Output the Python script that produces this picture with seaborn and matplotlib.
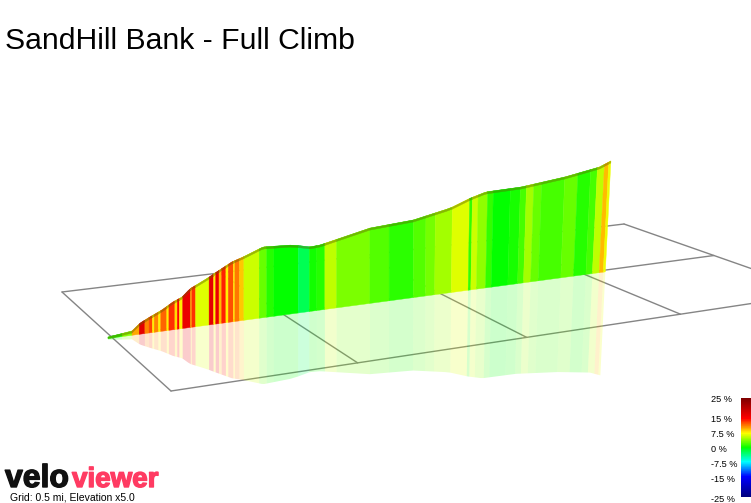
import numpy as np
import matplotlib
matplotlib.use("Agg")
import matplotlib.pyplot as plt
import matplotlib.patheffects as pe
from matplotlib.colors import LinearSegmentedColormap, Normalize
import seaborn as sns

# values
title = "SandHill Bank - Full Climb"
footer = "Grid: 0.5 mi, Elevation x5.0"

# elevation profile: distance (mi), gain (ft)
profile_mi = [0.0, 0.08, 0.107, 0.14, 0.18, 0.217, 0.247, 0.273, 0.333, 0.357, 0.413, 0.45,
              0.517, 0.617, 0.673, 0.707, 0.873, 1.017, 1.14, 1.207, 1.257, 1.373, 1.517,
              1.607, 1.63, 1.667]
profile_ft = [5, 15, 39, 56, 75, 98, 111, 136, 166, 180, 211, 223,
              249, 242, 227, 229, 265, 273, 298, 324, 338, 339, 354,
              369, 373, 389]

# coloured segments: end distance (mi), gradient (%)
seg_end_mi = [.047, .08, .104, .123, .137, .148, .154, .168, .176, .196, .203, .223, .231, .238,
              .249, .276, .279, .292, .337, .352, .359, .37, .379, .393, .401, .418, .423, .438,
              .453, .504, .529, .553, .634, .671, .696, .723, .762, .873, .937, 1.018, 1.059,
              1.09, 1.146, 1.203, 1.212, 1.231, 1.262, 1.281, 1.337, 1.37, 1.39, 1.414, 1.44,
              1.516, 1.559, 1.601, 1.623, 1.646, 1.66, 1.667]
seg_grad = [1, 4, 10, 17, 11, 13, 8, 11, 8, 12, 8, 13.5, 8.5, 15,
            8, 16.5, 8, 13.5, 6.5, 17, 8, 16.5, 9.5, 14, 8, 12.5, 8, 11.5,
            9, 6, 3, 1, 0, -2.5, 0.5, 1, 5.5, 3.7, 2.5, 1.2, 2.5,
            3.5, 4.7, 6.5, 1.5, 6, 4.2, 1.5, 0.1, 0.7, 2, 4.7, 3,
            2, 3, 1, 2, 5.5, 9.5, 7]

legend_values = [25, 15, 7.5, 0, -7.5, -15, -25]
legend_labels = ["25 %", "15 %", "7.5 %", "0 %", "-7.5 %", "-15 %", "-25 %"]
grid_u = [0, 0.5, 1, 1.5, 2]

# colour scale
norm = Normalize(-25, 25)
stops = [(-25, "#000080"), (-15, "#0000ff"), (-7.5, "#00ffff"), (0, "#00ff00"),
         (7.5, "#ffff00"), (15, "#ff0000"), (25, "#800000")]
cmap = LinearSegmentedColormap.from_list("gradient", [(norm(v), c) for v, c in stops])

sns.set_theme(style="white")
plt.rcParams["font.family"] = ["Liberation Sans", "DejaVu Sans"]

fig = plt.figure(figsize=(7.51, 5.03), dpi=100)
ax = fig.add_axes([0, 0, 1, 1])
ax.set_xlim(0, 751)
ax.set_ylim(503, 0)
ax.axis("off")

# ground plane projection (u along the course in mi, v across)
src = [(0, 1), (2, 1), (0, -1), (2, -1)]
dst = [(171, 391), (821, 293), (62, 292), (624, 224)]
A, b = [], []
for (u, v), (x, y) in zip(src, dst):
    A.append([u, v, 1, 0, 0, 0, -u * x, -v * x])
    A.append([0, 0, 0, u, v, 1, -u * y, -v * y])
    b += [x, y]
H = np.append(np.linalg.solve(np.array(A, float), np.array(b, float)), 1).reshape(3, 3)


def ground(u, v):
    p = H @ np.array([u, v, 1.0])
    return p[0] / p[2], p[1] / p[2]


def grid_line(u0, v0, u1, v1):
    xa, ya = ground(u0, v0)
    xb, yb = ground(u1, v1)
    sns.lineplot(x=[xa, xb], y=[ya, yb], sort=False, estimator=None, color="#858585",
                 linewidth=1.0, ax=ax, zorder=1)


for u in grid_u:
    grid_line(u, -1, u, 1)
for v in [-1, 0, 1]:
    grid_line(0, v, 2, v)

# course mapped on screen, verticals lean only towards the far end
x0, y0 = 108, 338.5
px_per_mi = 300
slope = -0.134
ft_to_px = px_per_mi / 5280 * 5


def height(d):
    return np.interp(d, profile_mi, profile_ft) * ft_to_px


starts = [0] + seg_end_mi[:-1]
for s, e, g in zip(starts, seg_end_mi, seg_grad):
    d = np.linspace(s, e, 4)
    x = x0 + d * px_per_mi
    h = height(d)
    lean = 0.025 * np.clip((x - 400) / 205, 0, 1)
    xb = x - lean * h
    yb = y0 + slope * (xb - x0)
    xt = x + lean * h
    yt = y0 + slope * (x - x0) - h
    xr = x - 2.8 * lean * h
    yr = y0 + slope * (x - x0) + 0.94 * h
    col = np.array(cmap(norm(g))[:3])
    top_col = np.clip(col * 0.55 + np.array([0.17, 0.17, 0.0]), 0, 1)
    # face, reflection and darker top strip
    ax.fill(np.r_[xb, xt[::-1]], np.r_[yb, yt[::-1]], color=col, linewidth=0.3, zorder=3)
    ax.fill(np.r_[xb, xr[::-1]], np.r_[yb, yr[::-1]], color=col, alpha=0.2, linewidth=0, zorder=2)
    ax.fill(np.r_[xt, xt[::-1]], np.r_[yt, (yt + np.minimum(h, 2.0))[::-1]], color=top_col,
            linewidth=0.3, zorder=4)

ax.text(5, 49, title, fontsize=21.7, color="black", ha="left", va="baseline")

# logo and footer
ax.text(5, 487, "velo", fontsize=23, fontweight="bold", color="#111111", ha="left", va="baseline",
        path_effects=[pe.withStroke(linewidth=1.0, foreground="#111111")])
ax.text(72, 487, "viewer", fontsize=20, fontweight="bold", color="#ff3b62", ha="left", va="baseline",
        path_effects=[pe.withStroke(linewidth=1.0, foreground="#ff3b62")])
ax.text(10, 501, footer, fontsize=7.5, color="black", ha="left", va="baseline")

# colour legend
bar_top, bar_bottom = 398, 497
for val, lab in zip(legend_values, legend_labels):
    y = bar_top + (25 - val) / 50 * (bar_bottom - bar_top) + 2
    ax.text(711, y, lab, fontsize=6.6, color="black", ha="left", va="center")

cax = fig.add_axes([741 / 751, 1 - bar_bottom / 503, 10 / 751, (bar_bottom - bar_top) / 503])
ramp = np.linspace(25, -25, 100).reshape(-1, 1)
sns.heatmap(ramp, cmap=cmap, vmin=-25, vmax=25, cbar=False, xticklabels=False, yticklabels=False, ax=cax)

fig.savefig("out.png", dpi=100)
